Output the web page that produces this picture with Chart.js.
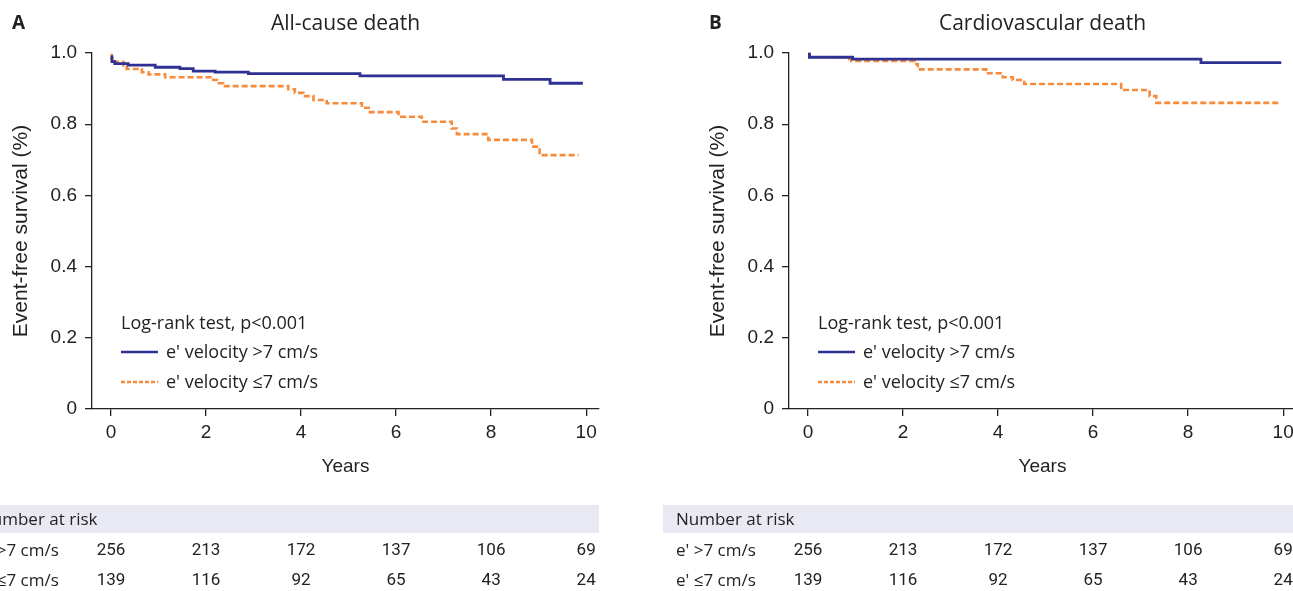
<!DOCTYPE html>
<html>
<head>
<meta charset="utf-8">
<script src="https://cdn.jsdelivr.net/npm/chart.js@4/dist/chart.umd.min.js"></script>
<style>
  body { margin: 0; width: 1293px; height: 591px; overflow: hidden; background: #fff; position: relative; }
  canvas { position: absolute; top: 0; }
  #chartA { left: -60px; }
  #chartB { left: 637px; }
</style>
</head>
<body>
<canvas id="chartA" width="670" height="591"></canvas>
<canvas id="chartB" width="670" height="591"></canvas>
<script>
// tick labels
const xTicks = [0, 2, 4, 6, 8, 10];
const yTicks = [0, 0.2, 0.4, 0.6, 0.8, 1.0];

// A: all-cause death, step points (years, survival from that time on)
const allHighYears = [0, 0.02, 0.08, 0.36, 0.93, 1.45, 1.73, 2.19, 2.89, 5.24, 8.26, 9.24, 9.93];
const allHighSurv  = [0.99, 0.976, 0.97, 0.966, 0.96, 0.956, 0.949, 0.946, 0.942, 0.936, 0.926, 0.915, 0.915];
const allLowYears = [0, 0.01, 0.08, 0.26, 0.33, 0.65, 0.79, 1.14, 2.15, 2.23, 2.36, 3.73, 3.87, 4.05, 4.26, 4.54, 5.28, 5.45, 6.05, 6.54, 7.17, 7.28, 7.94, 8.86, 9.02, 9.84];
const allLowSurv  = [0.995, 0.985, 0.975, 0.965, 0.955, 0.946, 0.94, 0.932, 0.924, 0.915, 0.907, 0.898, 0.888, 0.879, 0.868, 0.859, 0.846, 0.834, 0.821, 0.807, 0.788, 0.772, 0.756, 0.737, 0.713, 0.713];

// B: cardiovascular death
const cvHighYears = [0, 0.03, 0.94, 8.27, 9.96];
const cvHighSurv  = [0.997, 0.988, 0.983, 0.973, 0.973];
const cvLowYears = [0, 0.03, 0.84, 0.91, 2.24, 2.31, 3.75, 4.1, 4.31, 4.55, 6.59, 7.19, 7.33, 9.96];
const cvLowSurv  = [0.997, 0.988, 0.983, 0.978, 0.969, 0.954, 0.943, 0.932, 0.924, 0.913, 0.896, 0.879, 0.86, 0.86];

// number at risk
const riskYears = [0, 2, 4, 6, 8, 10];
const riskHigh = [256, 213, 172, 137, 106, 69];
const riskLow = [139, 116, 92, 65, 43, 24];

const blue = '#2e3192';
const orange = '#f68b3c';
const axisColor = '#222';
const arial = "'Liberation Sans', Arial, sans-serif";
const humanist = "'Open Sans', 'Noto Sans', sans-serif";

function toPoints(xs, ys) {
  return xs.map((x, i) => ({ x: x, y: ys[i] }));
}

const panelText = {
  id: 'panelText',
  afterDraw(chart, args, opts) {
    const ctx = chart.ctx;
    const a = chart.chartArea;
    const x = chart.scales.x;
    ctx.save();
    ctx.fillStyle = '#222';
    ctx.textBaseline = 'middle';

    // letter + title
    ctx.textAlign = 'left';
    ctx.font = 'bold 19px ' + humanist;
    ctx.fillText(opts.letter, a.left - 80, 24);
    ctx.textAlign = 'center';
    ctx.font = '21px ' + humanist;
    ctx.fillText(opts.title, (a.left + a.right) / 2, 24);

    // legend
    const lx = a.left + 29;
    ctx.textAlign = 'left';
    ctx.font = '18px ' + humanist;
    ctx.fillText('Log-rank test, p<0.001', lx, 324);
    ctx.lineWidth = 2.5;
    ctx.strokeStyle = blue;
    ctx.beginPath(); ctx.moveTo(lx, 352); ctx.lineTo(lx + 37, 352); ctx.stroke();
    ctx.strokeStyle = orange;
    ctx.setLineDash([4, 2]);
    ctx.beginPath(); ctx.moveTo(lx, 382); ctx.lineTo(lx + 37, 382); ctx.stroke();
    ctx.setLineDash([]);
    ctx.fillText("e' velocity >7 cm/s", lx + 45, 353);
    ctx.fillText("e' velocity \u22647 cm/s", lx + 45, 383);

    // number at risk table
    ctx.fillStyle = '#e9e9f3';
    ctx.fillRect(a.left - 126, 505, a.right - a.left + 126, 28);
    ctx.fillStyle = '#222';
    ctx.font = '17px ' + humanist;
    ctx.fillText('Number at risk', a.left - 113, 520);
    ctx.fillText("e' >7 cm/s", a.left - 113, 551);
    ctx.fillText("e' \u22647 cm/s", a.left - 113, 581);
    ctx.textAlign = 'center';
    ctx.font = "17px Roboto, sans-serif";
    riskYears.forEach((yr, i) => {
      const px = x.getPixelForValue(yr);
      ctx.fillText(String(riskHigh[i]), px, 551);
      ctx.fillText(String(riskLow[i]), px, 581);
    });
    ctx.restore();
  }
};

function makeChart(id, letter, title, highPts, lowPts) {
  return new Chart(document.getElementById(id), {
    type: 'line',
    data: {
      datasets: [
        { data: highPts, borderColor: blue, borderWidth: 2.8, stepped: true, pointRadius: 0, clip: false },
        { data: lowPts, borderColor: orange, borderWidth: 2.6, borderDash: [6, 3], stepped: true, pointRadius: 0, clip: false }
      ]
    },
    options: {
      responsive: false,
      animation: false,
      layout: { padding: { left: 69, top: 53, right: 11, bottom: 113 } },
      plugins: {
        legend: { display: false },
        tooltip: { enabled: false },
        panelText: { letter: letter, title: title }
      },
      scales: {
        x: {
          type: 'linear',
          min: -0.4,
          max: 10.27,
          afterBuildTicks: s => { s.ticks = xTicks.map(v => ({ value: v })); },
          afterFit: s => { s.height = 69; },
          border: { color: axisColor, width: 1.3 },
          grid: { drawOnChartArea: false, drawTicks: true, tickLength: 7, color: axisColor, lineWidth: 1.3 },
          ticks: { color: axisColor, padding: 5, font: { family: arial, size: 19 } },
          title: { display: true, text: 'Years', color: axisColor, padding: 0, font: { family: arial, size: 19 } }
        },
        y: {
          min: 0,
          max: 1,
          afterBuildTicks: s => { s.ticks = yTicks.map(v => ({ value: v })); },
          afterFit: s => { s.width = 83; },
          border: { color: axisColor, width: 1.3 },
          grid: { drawOnChartArea: false, drawTicks: true, tickLength: 7, color: axisColor, lineWidth: 1.3 },
          ticks: {
            color: axisColor, padding: 8, font: { family: arial, size: 19 },
            callback: v => (v === 0 ? '0' : v.toFixed(1))
          },
          title: { display: true, text: 'Event-free survival (%)', color: axisColor, padding: 0, font: { family: arial, size: 21 } }
        }
      }
    },
    plugins: [panelText]
  });
}

makeChart('chartA', 'A', 'All-cause death', toPoints(allHighYears, allHighSurv), toPoints(allLowYears, allLowSurv));
makeChart('chartB', 'B', 'Cardiovascular death', toPoints(cvHighYears, cvHighSurv), toPoints(cvLowYears, cvLowSurv));
</script>
</body>
</html>
